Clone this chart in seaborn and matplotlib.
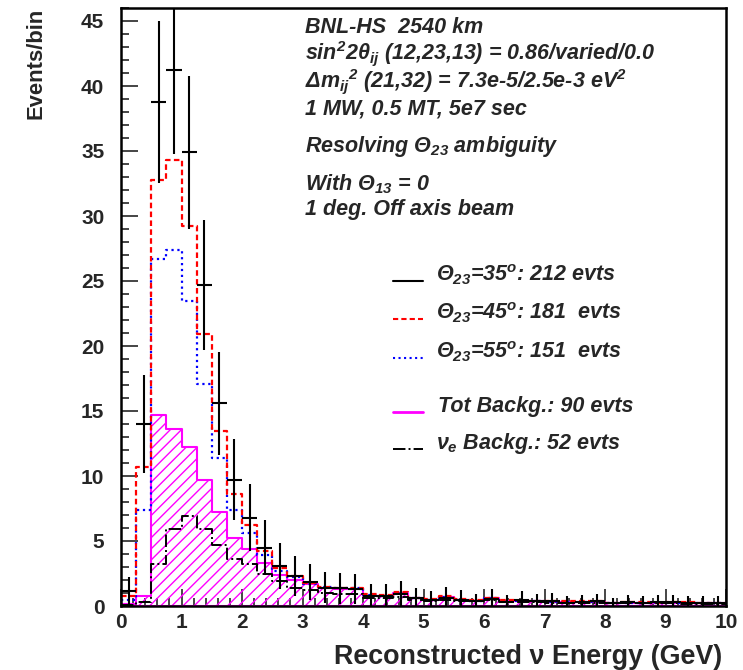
import numpy as np
import matplotlib
matplotlib.use("Agg")
import matplotlib.pyplot as plt
from matplotlib.lines import Line2D
from matplotlib.ticker import MultipleLocator
import seaborn as sns

####### data (events per 0.25 GeV bin, 0 -> 10 GeV) #######
bin_w = 0.25
centers = np.arange(40) * bin_w + bin_w / 2

# theta23 = 35 deg "data" points (212 evts)
th35 = [1.15, 14.0, 38.8, 41.2, 34.9, 24.7, 15.6, 9.7, 6.8, 4.5,
        3.1, 2.3, 1.85, 1.4, 1.35, 1.3, 0.8, 0.8, 0.95, 0.6,
        0.45, 0.65, 0.5, 0.35, 0.55, 0.3, 0.45, 0.35, 0.4, 0.25,
        0.3, 0.35, 0.2, 0.3, 0.25, 0.3, 0.3, 0.25, 0.25, 0.25]
# theta23 = 45 deg (181 evts)
th45 = [0.8, 10.7, 32.8, 34.3, 29.2, 20.9, 13.5, 8.6, 6.2, 4.2,
        2.9, 2.3, 1.8, 1.5, 1.4, 1.4, 0.9, 0.85, 1.05, 0.65,
        0.55, 0.75, 0.55, 0.45, 0.65, 0.45, 0.4, 0.4, 0.35, 0.35,
        0.35, 0.35, 0.25, 0.3, 0.3, 0.25, 0.3, 0.3, 0.25, 0.25]
# theta23 = 55 deg (151 evts)
th55 = [0.5, 7.4, 26.7, 27.4, 23.5, 17.1, 11.4, 7.4, 5.6, 3.9,
        2.7, 2.2, 1.7, 1.45, 1.35, 1.35, 0.85, 0.8, 1.0, 0.6,
        0.5, 0.7, 0.5, 0.4, 0.6, 0.4, 0.35, 0.35, 0.3, 0.3,
        0.3, 0.3, 0.2, 0.25, 0.25, 0.2, 0.25, 0.25, 0.2, 0.2]
# total background (90 evts)
tot_bkg = [0.15, 0.8, 14.7, 13.6, 12.2, 9.7, 7.2, 5.2, 4.4, 3.3,
           2.4, 2.0, 1.7, 1.4, 1.3, 1.3, 0.8, 0.8, 1.0, 0.6,
           0.5, 0.7, 0.5, 0.4, 0.6, 0.4, 0.35, 0.35, 0.3, 0.3,
           0.3, 0.3, 0.2, 0.25, 0.25, 0.2, 0.25, 0.25, 0.2, 0.2]
# nu_e beam background (52 evts)
nue_bkg = [0.1, 0.3, 3.2, 5.9, 6.9, 5.9, 4.7, 3.6, 3.2, 2.5,
           1.9, 1.4, 1.2, 1.0, 0.9, 0.9, 0.6, 0.6, 0.7, 0.45,
           0.4, 0.5, 0.4, 0.35, 0.45, 0.3, 0.3, 0.3, 0.25, 0.25,
           0.2, 0.25, 0.2, 0.2, 0.2, 0.2, 0.2, 0.15, 0.15, 0.15]

legend_labels = [r"$\Theta_{23}$=35$^{o}$: 212 evts",
                 r"$\Theta_{23}$=45$^{o}$: 181  evts",
                 r"$\Theta_{23}$=55$^{o}$: 151  evts",
                 "Tot Backg.: 90 evts",
                 r"$\nu_{e}$ Backg.: 52 evts"]

info_lines = ["BNL-HS  2540 km",
              r"sin$^{2}$2$\theta_{ij}$ (12,23,13) = 0.86/varied/0.0",
              r"$\Delta$m$_{ij}$$^{2}$ (21,32) = 7.3e-5/2.5e-3 eV$^{2}$",
              "1 MW, 0.5 MT, 5e7 sec",
              r"Resolving $\Theta_{23}$ ambiguity",
              r"With $\Theta_{13}$ = 0",
              "1 deg. Off axis beam"]

####### style #######
sns.set_style("white")
plt.rcParams['font.family'] = ['Liberation Sans', 'DejaVu Sans']
plt.rcParams['font.weight'] = 'bold'
plt.rcParams['mathtext.fontset'] = 'custom'
plt.rcParams['mathtext.rm'] = 'Liberation Sans:bold:italic'
plt.rcParams['mathtext.it'] = 'Liberation Sans:bold:italic'
plt.rcParams['mathtext.bf'] = 'Liberation Sans:bold:italic'
plt.rcParams['hatch.color'] = 'magenta'
plt.rcParams['hatch.linewidth'] = 1.0

W, H = 743, 670
fig = plt.figure(figsize=(W / 100, H / 100), dpi=100)
ax = fig.add_axes([121 / W, 1 - 606 / H, (726 - 121) / W, (606 - 8) / H])

####### histograms #######
hist_kw = dict(binwidth=bin_w, binrange=(0, 10), element='step', alpha=1, ax=ax)
sns.histplot(x=centers, weights=tot_bkg, fill=True, color='magenta',
             facecolor='none', hatch='///', linewidth=1.5, **hist_kw)
sns.histplot(x=centers, weights=th55, fill=False, color='blue',
             linestyle=':', linewidth=1.6, **hist_kw)
sns.histplot(x=centers, weights=th45, fill=False, color='red',
             linestyle=(0, (2.5, 1.5)), linewidth=1.6, **hist_kw)
sns.histplot(x=centers, weights=nue_bkg, fill=False, color='black',
             linestyle='-.', linewidth=1.4, **hist_kw)

ax.errorbar(centers, th35, yerr=np.sqrt(th35), xerr=bin_w / 2, fmt='none',
            ecolor='black', elinewidth=1.5, capsize=0, zorder=5)

####### axes #######
ax.set_xlim(0, 10)
ax.set_ylim(0, 46)
ax.set_xlabel('')
ax.set_ylabel('')
ax.xaxis.set_major_locator(MultipleLocator(1))
ax.xaxis.set_minor_locator(MultipleLocator(0.2))
ax.yaxis.set_major_locator(MultipleLocator(5))
ax.yaxis.set_minor_locator(MultipleLocator(1))
ax.tick_params(which='both', direction='in', top=False, right=False,
               bottom=True, left=True, width=1.2, labelsize=15)
ax.tick_params(which='major', length=12)
ax.tick_params(which='minor', length=6)
ax.tick_params(axis='y', pad=12)
ax.tick_params(axis='x', pad=5)
for sp in ax.spines.values():
    sp.set_linewidth(1.8)
    sp.set_color('black')

fig.text(722 / W, 1 - 664 / H, "Reconstructed ν Energy (GeV)", fontsize=19.4,
         fontweight='bold', ha='right', va='baseline')
fig.text(36 / W, 1 - 8 / H, "Events/bin", fontsize=15.8, fontweight='bold',
         rotation=90, ha='center', va='top')

####### text box #######
info_y = [33, 59, 87, 114, 152, 190, 215]
for txt, y in zip(info_lines, info_y):
    fig.text(305 / W, 1 - y / H, txt, fontsize=15.5, fontweight='bold',
             fontstyle='italic', va='baseline')

####### legend (drawn by hand, ROOT style) #######
leg_styles = [dict(color='black', linestyle='-', linewidth=1.5),
              dict(color='red', linestyle=(0, (2.5, 1.5)), linewidth=1.5),
              dict(color='blue', linestyle=':', linewidth=1.5),
              dict(color='magenta', linestyle='-', linewidth=2),
              dict(color='black', linestyle='-.', linewidth=1.4)]
leg_y = [281, 319, 358, 412, 449]
leg_x = [436, 436, 436, 438, 436]
for lab, st, y, x in zip(legend_labels, leg_styles, leg_y, leg_x):
    fig.add_artist(Line2D([393 / W, 423 / W], [1 - y / H, 1 - y / H],
                          transform=fig.transFigure, **st))
    fig.text(x / W, 1 - y / H, lab, fontsize=15.5, fontweight='bold',
             fontstyle='italic', va='baseline')

plt.savefig('out.png', dpi=100)
